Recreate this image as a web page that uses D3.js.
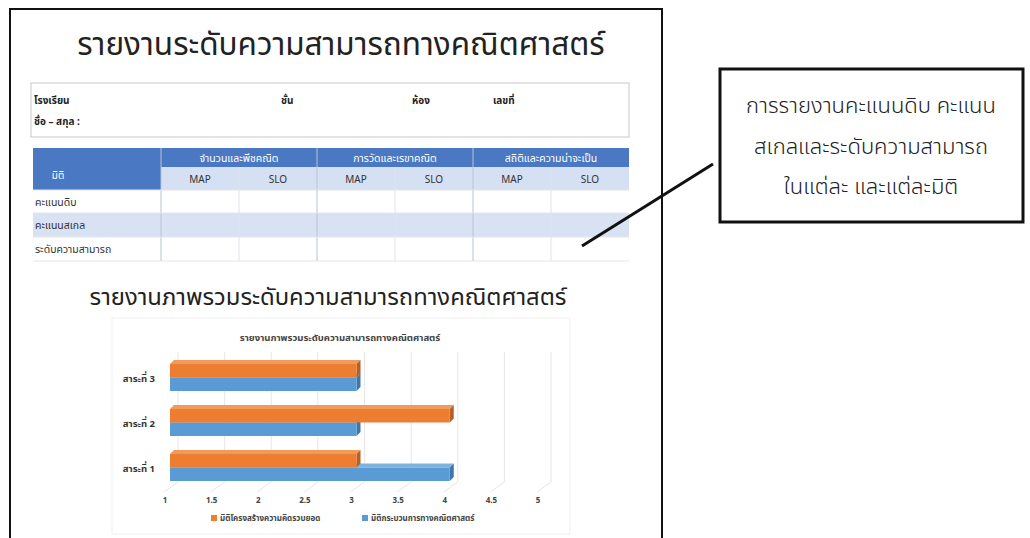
<!DOCTYPE html>
<html>
<head>
<meta charset="utf-8">
<script src="https://cdn.jsdelivr.net/npm/d3@7"></script>
<style>
  body { margin: 0; background: #fff; }
  text { font-family: "Noto Sans Thai", "Noto Sans", "DejaVu Sans", sans-serif; }
</style>
</head>
<body>
<div id="chart"></div>
<script>
// data
const categories = ["สาระที่ 1", "สาระที่ 2", "สาระที่ 3"]
const conceptValues = [3, 4, 3]   // orange series
const processValues = [4, 3, 3]   // blue series
const seriesNames = ["มิติโครงสร้างความคิดรวบยอด", "มิติกระบวนการทางคณิตศาสตร์"]
const xTicks = [1, 1.5, 2, 2.5, 3, 3.5, 4, 4.5, 5]
const strands = ["จำนวนและพีชคณิต", "การวัดและเรขาคณิต", "สถิติและความน่าจะเป็น"]
const subCols = ["MAP", "SLO"]
const rowLabels = ["คะแนนดิบ", "คะแนนสเกล", "ระดับความสามารถ"]
const calloutLines = ["การรายงานคะแนนดิบ คะแนน", "สเกลและระดับความสามารถ", "ในแต่ละ และแต่ละมิติ"]

const svg = d3.select("#chart").append("svg")
    .attr("width", 1030)
    .attr("height", 538)

// outer frame (runs off the bottom)
svg.append("rect")
    .attr("x", 10).attr("y", 9)
    .attr("width", 652).attr("height", 560)
    .attr("fill", "none").attr("stroke", "#111").attr("stroke-width", 2)

svg.append("text")
    .attr("x", 341).attr("y", 55)
    .attr("text-anchor", "middle")
    .attr("font-size", 31.5)
    .attr("fill", "#222")
    .text("รายงานระดับความสามารถทางคณิตศาสตร์")

// student info box
svg.append("rect")
    .attr("x", 31).attr("y", 83).attr("width", 598).attr("height", 54)
    .attr("fill", "#fff").attr("stroke", "#c8c8c8")
const info = svg.append("g").attr("font-size", 10).attr("fill", "#222").attr("font-weight", "bold")
info.append("text").attr("x", 34).attr("y", 104).text("โรงเรียน")
info.append("text").attr("x", 281).attr("y", 104).text("ชั้น")
info.append("text").attr("x", 412).attr("y", 104).text("ห้อง")
info.append("text").attr("x", 493).attr("y", 104).text("เลขที่")
info.append("text").attr("x", 34).attr("y", 125).text("ชื่อ – สกุล :")

// score table
const tableX = 33, firstColW = 128, colW = 78
const rowY = [148, 167, 190, 213, 237, 261]
const colX = d3.range(7).map(i => tableX + firstColW + i * colW)
const table = svg.append("g")

table.append("rect")
    .attr("x", tableX).attr("y", rowY[0])
    .attr("width", firstColW + 6 * colW).attr("height", rowY[1] - rowY[0])
    .attr("fill", "#4a78c2")
table.append("rect")
    .attr("x", tableX).attr("y", rowY[1])
    .attr("width", firstColW).attr("height", rowY[2] - rowY[1])
    .attr("fill", "#4a78c2")
table.append("rect")
    .attr("x", colX[0]).attr("y", rowY[1])
    .attr("width", 6 * colW).attr("height", rowY[2] - rowY[1])
    .attr("fill", "#d5e0f2")
table.append("rect")
    .attr("x", tableX).attr("y", rowY[3])
    .attr("width", firstColW + 6 * colW).attr("height", rowY[4] - rowY[3])
    .attr("fill", "#d9e2f3")

// lines between columns
colX.slice(0, 6).forEach((x, i) => {
    table.append("line")
	.attr("x1", x).attr("x2", x)
	.attr("y1", i % 2 === 0 ? rowY[0] : rowY[1]).attr("y2", rowY[5])
	.attr("stroke", i % 2 === 0 ? "#b9c3d3" : "#dde3ec")
})
rowY.slice(2).forEach(y => {
    table.append("line")
	.attr("x1", tableX).attr("x2", colX[6])
	.attr("y1", y).attr("y2", y)
	.attr("stroke", "#e2e6ee")
})

table.append("text")
    .attr("x", 58).attr("y", 179)
    .attr("text-anchor", "middle").attr("font-size", 10)
    .attr("fill", "#fff").text("มิติ")
table.selectAll(".strand")
    .data(strands)
    .enter().append("text")
    .attr("class", "strand")
    .attr("x", (d, i) => colX[i * 2] + colW)
    .attr("y", 162)
    .attr("text-anchor", "middle").attr("font-size", 10.5)
    .attr("fill", "#fff")
    .text(d => d)
table.selectAll(".sub")
    .data(d3.range(6))
    .enter().append("text")
    .attr("class", "sub")
    .attr("x", i => colX[i] + colW / 2)
    .attr("y", 183)
    .attr("text-anchor", "middle").attr("font-size", 10)
    .attr("fill", "#333")
    .text(i => subCols[i % 2])
table.selectAll(".rowlab")
    .data(rowLabels)
    .enter().append("text")
    .attr("class", "rowlab")
    .attr("x", tableX + 2)
    .attr("y", (d, i) => rowY[i + 2] + 16)
    .attr("font-size", 10.5)
    .attr("fill", "#333")
    .text(d => d)

// second heading
svg.append("text")
    .attr("x", 328).attr("y", 305)
    .attr("text-anchor", "middle")
    .attr("font-size", 23.8)
    .attr("fill", "#222")
    .text("รายงานภาพรวมระดับความสามารถทางคณิตศาสตร์")

// chart card
svg.append("rect")
    .attr("x", 112).attr("y", 318).attr("width", 458).attr("height", 216)
    .attr("fill", "#fff").attr("stroke", "#efefef")

svg.append("text")
    .attr("x", 340).attr("y", 341)
    .attr("text-anchor", "middle").attr("font-size", 9.5).attr("font-weight", "bold")
    .attr("fill", "#444")
    .text("รายงานภาพรวมระดับความสามารถทางคณิตศาสตร์")

const x = d3.scaleLinear().domain([1, 5]).range([170, 543])
const y = d3.scaleBand().domain(categories.slice().reverse())
    .range([355, 490]).paddingInner(0.4).paddingOuter(0.2)
const depth = 8

// back wall gridlines with slanted floor part
const grid = svg.append("g").attr("stroke", "#e6e6e6").attr("fill", "none")
xTicks.forEach(v => {
    grid.append("path")
	.attr("d", "M" + (x(v) + depth) + "," + 352 +
	      "L" + (x(v) + depth) + "," + 482 +
	      "L" + (x(v) - 6) + "," + 492)
})

svg.append("g").selectAll("text")
    .data(xTicks)
    .enter().append("text")
    .attr("x", d => x(d) - 5)
    .attr("y", 503)
    .attr("text-anchor", "middle").attr("font-size", 8).attr("font-weight", "bold")
    .attr("fill", "#444")
    .text(d => d)

svg.append("g").selectAll("text")
    .data(categories)
    .enter().append("text")
    .attr("x", 155)
    .attr("y", d => y(d) + y.bandwidth() / 2 + 4)
    .attr("text-anchor", "end").attr("font-size", 9.5).attr("font-weight", "bold")
    .attr("fill", "#333")
    .text(d => d)

// 3D bars: front face, top face, end face
function bar3d(g, x0, x1, yTop, h, col) {
    const d = 4
    g.append("path")
	.attr("d", `M${x0},${yTop}L${x0 + d},${yTop - d}L${x1 + d},${yTop - d}L${x1},${yTop}Z`)
	.attr("fill", col.top)
    g.append("path")
	.attr("d", `M${x1},${yTop}L${x1 + d},${yTop - d}L${x1 + d},${yTop + h - d}L${x1},${yTop + h}Z`)
	.attr("fill", col.side)
    g.append("rect")
	.attr("x", x0).attr("y", yTop)
	.attr("width", x1 - x0).attr("height", h)
	.attr("fill", col.front)
}
const orange = { front: "#ed7d31", top: "#f29a5c", side: "#b85f22" }
const blue = { front: "#5b9bd5", top: "#80b2e0", side: "#3e77ab" }
const bars = svg.append("g")
categories.forEach((c, i) => {
    const h = y.bandwidth() / 2
    bar3d(bars, x(1), x(processValues[i]), y(c) + h, h, blue)
    bar3d(bars, x(1), x(conceptValues[i]), y(c), h, orange)
})

// legend
const legend = svg.append("g").attr("font-size", 8).attr("font-weight", "bold").attr("fill", "#444")
const legendX = [211, 362]
seriesNames.forEach((s, i) => {
    legend.append("rect")
	.attr("x", legendX[i]).attr("y", 515).attr("width", 6).attr("height", 6)
	.attr("fill", i === 0 ? orange.front : blue.front)
    legend.append("text")
	.attr("x", legendX[i] + 9).attr("y", 521)
	.text(s)
})

// callout box and pointer
svg.append("line")
    .attr("x1", 582).attr("y1", 246).attr("x2", 713).attr("y2", 164)
    .attr("stroke", "#111").attr("stroke-width", 3)
svg.append("rect")
    .attr("x", 720).attr("y", 69).attr("width", 303).attr("height", 153)
    .attr("fill", "#fff").attr("stroke", "#111").attr("stroke-width", 3)
svg.append("g").selectAll("text")
    .data(calloutLines)
    .enter().append("text")
    .attr("x", 871)
    .attr("y", (d, i) => 113 + i * 40.5)
    .attr("text-anchor", "middle").attr("font-size", 22)
    .attr("font-weight", 300)
    .attr("fill", "#222")
    .text(d => d)
</script>
</body>
</html>
